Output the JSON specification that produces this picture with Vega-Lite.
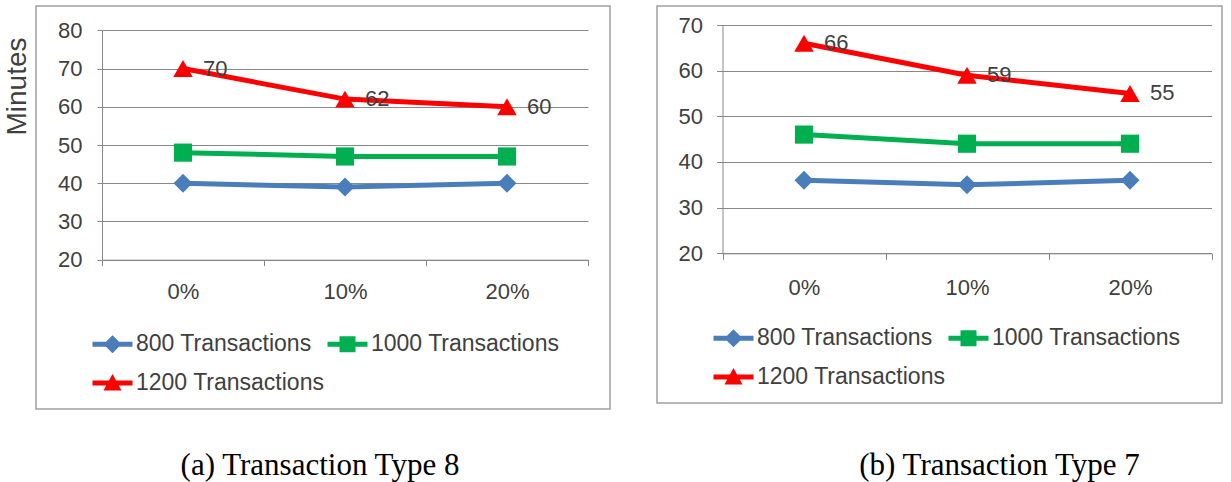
{
  "$schema": "https://vega.github.io/schema/vega-lite/v6.json",
  "background": "white",
  "padding": {"left": 2, "top": 5, "right": 0, "bottom": 0},
  "datasets": {
    "typeA": [
      {"series": "800 Transactions", "pct": "0%", "minutes": 40},
      {"series": "800 Transactions", "pct": "10%", "minutes": 39},
      {"series": "800 Transactions", "pct": "20%", "minutes": 40},
      {"series": "1000 Transactions", "pct": "0%", "minutes": 48},
      {"series": "1000 Transactions", "pct": "10%", "minutes": 47},
      {"series": "1000 Transactions", "pct": "20%", "minutes": 47},
      {"series": "1200 Transactions", "pct": "0%", "minutes": 70},
      {"series": "1200 Transactions", "pct": "10%", "minutes": 62},
      {"series": "1200 Transactions", "pct": "20%", "minutes": 60}
    ],
    "typeB": [
      {"series": "800 Transactions", "pct": "0%", "minutes": 36},
      {"series": "800 Transactions", "pct": "10%", "minutes": 35},
      {"series": "800 Transactions", "pct": "20%", "minutes": 36},
      {"series": "1000 Transactions", "pct": "0%", "minutes": 46},
      {"series": "1000 Transactions", "pct": "10%", "minutes": 44},
      {"series": "1000 Transactions", "pct": "20%", "minutes": 44},
      {"series": "1200 Transactions", "pct": "0%", "minutes": 66},
      {"series": "1200 Transactions", "pct": "10%", "minutes": 59},
      {"series": "1200 Transactions", "pct": "20%", "minutes": 55}
    ]
  },
  "spacing": 45,
  "resolve": {
    "scale": {"x": "independent", "y": "independent"},
    "axis": {"x": "independent", "y": "independent"},
    "legend": {"color": "independent", "shape": "independent"}
  },
  "hconcat": [
    {
      "width": 574,
      "height": 403,
      "data": {"name": "typeA"},
      "title": {"text": "(a) Transaction Type 8", "orient": "bottom", "anchor": "middle", "offset": 42, "dx": -3, "font": "Liberation Serif", "fontSize": 31, "fontWeight": "normal", "color": "black"},
      "encoding": {
        "x": {
          "field": "pct", "type": "nominal", "sort": ["0%", "10%", "20%"],
          "scale": {"type": "band", "domain": ["0%", "10%", "20%"], "range": [66, 552], "paddingInner": 0, "paddingOuter": 0},
          "axis": {"orient": "bottom", "offset": -149.3, "title": null, "labelAngle": 0, "domain": true, "domainColor": "#888888", "domainWidth": 1, "ticks": true, "tickBand": "extent", "tickSize": 6, "tickColor": "#888888", "grid": false, "labelFont": "Liberation Sans", "labelFontSize": 22, "labelColor": "#404040", "labelPadding": 16}
        },
        "y": {
          "field": "minutes", "type": "quantitative",
          "scale": {"domain": [20, 80], "range": [253.7, 24.3], "nice": false, "zero": false},
          "axis": {"orient": "left", "offset": -66, "values": [20, 30, 40, 50, 60, 70, 80], "title": "Minutes", "titleFont": "Liberation Sans", "titleFontSize": 28, "titleFontWeight": "normal", "titleColor": "#404040", "titlePadding": 26, "titleY": 80, "domain": true, "domainColor": "#888888", "domainWidth": 1, "ticks": true, "tickSize": 5, "tickColor": "#888888", "grid": true, "gridColor": "#888888", "gridWidth": 1, "labelFont": "Liberation Sans", "labelFontSize": 22, "labelColor": "#404040", "labelPadding": 15}
        }
      },
      "layer": [
        {
          "mark": {"type": "line", "strokeWidth": 5},
          "encoding": {"stroke": {"field": "series", "type": "nominal", "scale": {"domain": ["800 Transactions", "1000 Transactions", "1200 Transactions"], "range": ["#4a7ebb", "#00b050", "#ff0000"]}, "legend": null}}
        },
        {
          "mark": {"type": "point", "filled": true, "opacity": 1, "size": 1, "strokeWidth": 0},
          "encoding": {
            "color": {"field": "series", "type": "nominal", "scale": {"domain": ["800 Transactions", "1000 Transactions", "1200 Transactions"], "range": ["#4a7ebb", "#00b050", "#ff0000"]},
              "legend": {"title": null, "orient": "none", "legendX": 55, "legendY": 326.5, "direction": "horizontal", "columns": 2, "columnPadding": 1, "rowPadding": 15, "padding": 0, "symbolSize": 400, "symbolStrokeWidth": 0, "symbolOpacity": 1, "labelFont": "Liberation Sans", "labelFontSize": 23, "labelColor": "#404040", "labelOffset": 22, "labelLimit": 400}},
            "shape": {"field": "series", "type": "nominal", "scale": {"domain": ["800 Transactions", "1000 Transactions", "1200 Transactions"], "range": ["M-1,-0.25H3V0.25H-1Z M1,-0.9L1.9,0L1,0.9L0.1,0Z", "M-1,-0.25H3V0.25H-1Z M0.2,-0.8H1.8V0.8H0.2Z", "M-1,-0.25H3V0.25H-1Z M1,-0.9L1.9,0.75L0.1,0.75Z"]}}
          }
        },
        {
          "transform": [{"filter": "datum.series === '800 Transactions'"}],
          "mark": {"type": "point", "shape": "diamond", "filled": true, "fill": "#4a7ebb", "opacity": 1, "size": 360, "strokeWidth": 0}
        },
        {
          "transform": [{"filter": "datum.series === '1000 Transactions'"}],
          "mark": {"type": "point", "shape": "square", "filled": true, "fill": "#00b050", "opacity": 1, "size": 330, "strokeWidth": 0}
        },
        {
          "transform": [{"filter": "datum.series === '1200 Transactions'"}],
          "mark": {"type": "point", "shape": "triangle-up", "filled": true, "fill": "#ff0000", "opacity": 1, "size": 380, "strokeWidth": 0}
        },
        {
          "transform": [{"filter": "datum.series === '1200 Transactions'"}],
          "mark": {"type": "text", "align": "left", "baseline": "middle", "dx": 20, "font": "Liberation Sans", "fontSize": 22, "color": "#404040"},
          "encoding": {"text": {"field": "minutes", "type": "quantitative"}}
        }
      ]
    },
    {
      "width": 565,
      "height": 397,
      "data": {"name": "typeB"},
      "title": {"text": "(b) Transaction Type 7", "orient": "bottom", "anchor": "middle", "offset": 48, "dx": 60, "font": "Liberation Serif", "fontSize": 31, "fontWeight": "normal", "color": "black"},
      "encoding": {
        "x": {
          "field": "pct", "type": "nominal", "sort": ["0%", "10%", "20%"],
          "scale": {"type": "band", "domain": ["0%", "10%", "20%"], "range": [65.5, 554.5], "paddingInner": 0, "paddingOuter": 0},
          "axis": {"orient": "bottom", "offset": -149.7, "title": null, "labelAngle": 0, "domain": true, "domainColor": "#888888", "domainWidth": 1, "ticks": true, "tickBand": "extent", "tickSize": 6, "tickColor": "#888888", "grid": false, "labelFont": "Liberation Sans", "labelFontSize": 22, "labelColor": "#404040", "labelPadding": 18}
        },
        "y": {
          "field": "minutes", "type": "quantitative",
          "scale": {"domain": [20, 70], "range": [247.3, 19], "nice": false, "zero": false},
          "axis": {"orient": "left", "offset": -65.5, "values": [20, 30, 40, 50, 60, 70], "title": null, "domain": true, "domainColor": "#888888", "domainWidth": 1, "ticks": true, "tickSize": 6, "tickColor": "#888888", "grid": true, "gridColor": "#888888", "gridWidth": 1, "labelFont": "Liberation Sans", "labelFontSize": 22, "labelColor": "#404040", "labelPadding": 14}
        }
      },
      "layer": [
        {
          "mark": {"type": "line", "strokeWidth": 5},
          "encoding": {"stroke": {"field": "series", "type": "nominal", "scale": {"domain": ["800 Transactions", "1000 Transactions", "1200 Transactions"], "range": ["#4a7ebb", "#00b050", "#ff0000"]}, "legend": null}}
        },
        {
          "mark": {"type": "point", "filled": true, "opacity": 1, "size": 1, "strokeWidth": 0},
          "encoding": {
            "color": {"field": "series", "type": "nominal", "scale": {"domain": ["800 Transactions", "1000 Transactions", "1200 Transactions"], "range": ["#4a7ebb", "#00b050", "#ff0000"]},
              "legend": {"title": null, "orient": "none", "legendX": 55, "legendY": 320.5, "direction": "horizontal", "columns": 2, "columnPadding": 1, "rowPadding": 15, "padding": 0, "symbolSize": 400, "symbolStrokeWidth": 0, "symbolOpacity": 1, "labelFont": "Liberation Sans", "labelFontSize": 23, "labelColor": "#404040", "labelOffset": 22, "labelLimit": 400}},
            "shape": {"field": "series", "type": "nominal", "scale": {"domain": ["800 Transactions", "1000 Transactions", "1200 Transactions"], "range": ["M-1,-0.25H3V0.25H-1Z M1,-0.9L1.9,0L1,0.9L0.1,0Z", "M-1,-0.25H3V0.25H-1Z M0.2,-0.8H1.8V0.8H0.2Z", "M-1,-0.25H3V0.25H-1Z M1,-0.9L1.9,0.75L0.1,0.75Z"]}}
          }
        },
        {
          "transform": [{"filter": "datum.series === '800 Transactions'"}],
          "mark": {"type": "point", "shape": "diamond", "filled": true, "fill": "#4a7ebb", "opacity": 1, "size": 360, "strokeWidth": 0}
        },
        {
          "transform": [{"filter": "datum.series === '1000 Transactions'"}],
          "mark": {"type": "point", "shape": "square", "filled": true, "fill": "#00b050", "opacity": 1, "size": 330, "strokeWidth": 0}
        },
        {
          "transform": [{"filter": "datum.series === '1200 Transactions'"}],
          "mark": {"type": "point", "shape": "triangle-up", "filled": true, "fill": "#ff0000", "opacity": 1, "size": 380, "strokeWidth": 0}
        },
        {
          "transform": [{"filter": "datum.series === '1200 Transactions'"}],
          "mark": {"type": "text", "align": "left", "baseline": "middle", "dx": 20, "font": "Liberation Sans", "fontSize": 22, "color": "#404040"},
          "encoding": {"text": {"field": "minutes", "type": "quantitative"}}
        }
      ]
    }
  ],
  "config": {
    "font": "Liberation Sans",
    "view": {"stroke": "#a0a0a0", "strokeWidth": 1.5}
  }
}
